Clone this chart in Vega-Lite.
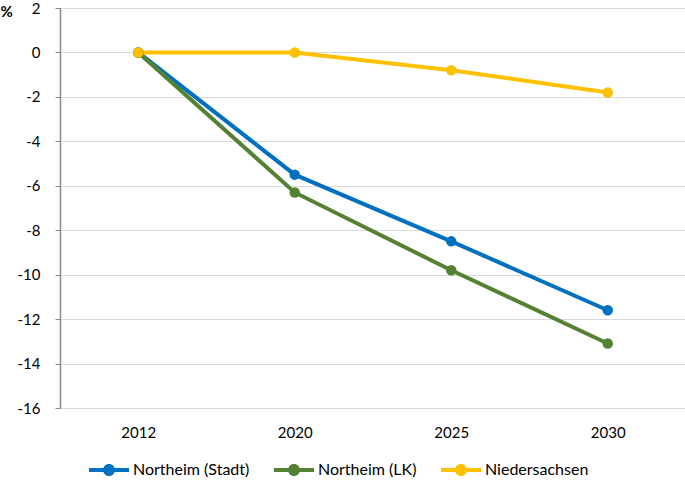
{
  "$schema": "https://vega.github.io/schema/vega-lite/v6.json",
  "width": 626,
  "height": 400,
  "autosize": "none",
  "padding": {"left": 60, "top": 8, "right": 0, "bottom": 72},
  "data": {
    "values": [
      {"Jahr": "2012", "Gebiet": "Northeim (Stadt)", "Wert": 0},
      {"Jahr": "2020", "Gebiet": "Northeim (Stadt)", "Wert": -5.5},
      {"Jahr": "2025", "Gebiet": "Northeim (Stadt)", "Wert": -8.5},
      {"Jahr": "2030", "Gebiet": "Northeim (Stadt)", "Wert": -11.6},
      {"Jahr": "2012", "Gebiet": "Northeim (LK)", "Wert": 0},
      {"Jahr": "2020", "Gebiet": "Northeim (LK)", "Wert": -6.3},
      {"Jahr": "2025", "Gebiet": "Northeim (LK)", "Wert": -9.8},
      {"Jahr": "2030", "Gebiet": "Northeim (LK)", "Wert": -13.1},
      {"Jahr": "2012", "Gebiet": "Niedersachsen", "Wert": 0},
      {"Jahr": "2020", "Gebiet": "Niedersachsen", "Wert": 0},
      {"Jahr": "2025", "Gebiet": "Niedersachsen", "Wert": -0.8},
      {"Jahr": "2030", "Gebiet": "Niedersachsen", "Wert": -1.8}
    ]
  },
  "mark": {
    "type": "line",
    "strokeWidth": 4,
    "point": {"filled": true, "size": 110, "opacity": 1}
  },
  "encoding": {
    "x": {
      "field": "Jahr",
      "type": "ordinal",
      "scale": {"type": "point", "padding": 0.5},
      "axis": {
        "title": null,
        "labelAngle": 0,
        "ticks": false,
        "labelPadding": 17,
        "domainColor": "#d9d9d9",
        "domainWidth": 1
      }
    },
    "y": {
      "field": "Wert",
      "type": "quantitative",
      "scale": {"domain": [-16, 2], "nice": false, "zero": false},
      "axis": {
        "values": [-16, -14, -12, -10, -8, -6, -4, -2, 0, 2],
        "labelExpr": "replace(datum.label, '−', '-')",
        "title": "%",
        "titleAngle": 0,
        "titleX": -60,
        "titleY": 3,
        "titleAlign": "left",
        "titleBaseline": "middle",
        "titleFontWeight": "bold",
        "titleFontSize": 15,
        "titleColor": "#000000",
        "domainColor": "#868686",
        "tickColor": "#868686",
        "tickSize": 5,
        "labelPadding": 15,
        "grid": true,
        "gridColor": "#d9d9d9"
      }
    },
    "color": {
      "field": "Gebiet",
      "type": "nominal",
      "scale": {
        "domain": ["Northeim (Stadt)", "Northeim (LK)", "Niedersachsen"],
        "range": ["#0070C0", "#548235", "#FFC000"]
      },
      "legend": {
        "title": null,
        "orient": "none",
        "direction": "horizontal",
        "legendX": 29,
        "legendY": 442,
        "symbolType": "M-1,-0.1H1V0.1H-1Z M-0.3,0A0.3,0.3 0 1,1 0.3,0A0.3,0.3 0 1,1 -0.3,0Z",
        "symbolSize": 1600,
        "symbolStrokeWidth": 0,
        "symbolOpacity": 1,
        "labelFontSize": 16,
        "labelOffset": 4,
        "columnPadding": 24
      }
    }
  },
  "config": {
    "font": "Lato",
    "view": {"stroke": null},
    "axis": {
      "labelFont": "Lato",
      "labelFontSize": 15,
      "labelColor": "#000000",
      "domainWidth": 1.5
    },
    "legend": {"labelFont": "Lato", "labelColor": "#000000"}
  }
}
